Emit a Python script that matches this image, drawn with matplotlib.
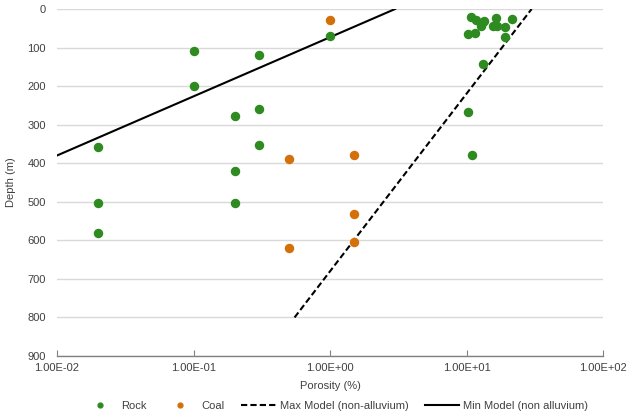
import matplotlib
matplotlib.use('Agg')
import matplotlib.pyplot as plt
from matplotlib.ticker import FixedLocator, FuncFormatter, NullLocator

plt.rcParams['font.family'] = ['Liberation Sans', 'DejaVu Sans']

# Rock samples: porosity (%) and depth (m)
rock_porosity = [0.02, 0.1, 0.3, 0.1, 0.2, 0.3, 0.3, 0.2, 0.02, 0.2, 0.02, 1.0,
                 10.7, 11.8, 13.5, 12.9, 12.7, 16.4, 15.7, 16.7, 19.1, 21.7,
                 19.3, 10.3, 11.5, 13.2, 10.3, 11.0]
rock_depth = [357, 109, 120, 200, 278, 260, 353, 421, 504, 504, 581, 70,
              21, 28, 31, 36, 45, 24, 44, 44, 46, 26,
              73, 66, 62, 143, 267, 379]

# Coal samples
coal_porosity = [1.0, 0.5, 0.5, 1.5, 1.5, 1.5]
coal_depth = [28, 390, 620, 378, 531, 604]

# Model lines (end points)
max_model_porosity = [0.55, 30]
max_model_depth = [800, 0]
min_model_porosity = [0.01, 3]
min_model_depth = [380, 0]

x_ticks = [0.01, 0.1, 1, 10, 100]
y_ticks = list(range(0, 1000, 100))

green = '#2E8B1F'
orange = '#D4700A'

fig = plt.figure(figsize=(6.36, 4.2), dpi=100)
ax = fig.add_axes([57 / 636, 64 / 420, 546 / 636, 347 / 420])

ax.plot(rock_porosity, rock_depth, 'o', color=green, markersize=5.8, label='Rock', zorder=3)
ax.plot(coal_porosity, coal_depth, 'o', color=orange, markersize=5.8, label='Coal', zorder=3)
ax.plot(max_model_porosity, max_model_depth, color='black', linestyle=(0, (3, 1.5)),
        linewidth=1.5, label='Max Model (non-alluvium)')
ax.plot(min_model_porosity, min_model_depth, color='black', linewidth=1.5,
        label='Min Model (non alluvium)')

ax.set_xscale('log')
ax.set_xlim(0.01, 100)
ax.set_ylim(900, 0)

ax.xaxis.set_major_locator(FixedLocator(x_ticks))
ax.xaxis.set_minor_locator(NullLocator())
ax.xaxis.set_major_formatter(FuncFormatter(lambda v, p: '%.2E' % v))
ax.set_yticks(y_ticks)

ax.grid(axis='y', color='#D9D9D9', linewidth=1)
ax.set_axisbelow(True)
for s in ['top', 'right', 'left']:
    ax.spines[s].set_visible(False)
ax.spines['bottom'].set_color('#808080')
ax.spines['bottom'].set_linewidth(1)

ax.tick_params(axis='x', direction='in', length=4, color='#808080', labelsize=8,
               labelcolor='#404040', pad=5)
ax.tick_params(axis='y', length=0, labelsize=8, labelcolor='#404040', pad=8)

ax.set_xlabel('Porosity (%)', fontsize=8, color='#404040', labelpad=6)
ax.set_ylabel('Depth (m)', fontsize=8, color='#404040', labelpad=8)

leg = ax.legend(loc='upper center', bbox_to_anchor=(0.51, -0.1), ncol=4, frameon=False,
                fontsize=8, markerscale=0.6, handlelength=3.1, columnspacing=1.5,
                handletextpad=0.35)
for t in leg.get_texts():
    t.set_color('#404040')

plt.savefig('out.png', dpi=100)
